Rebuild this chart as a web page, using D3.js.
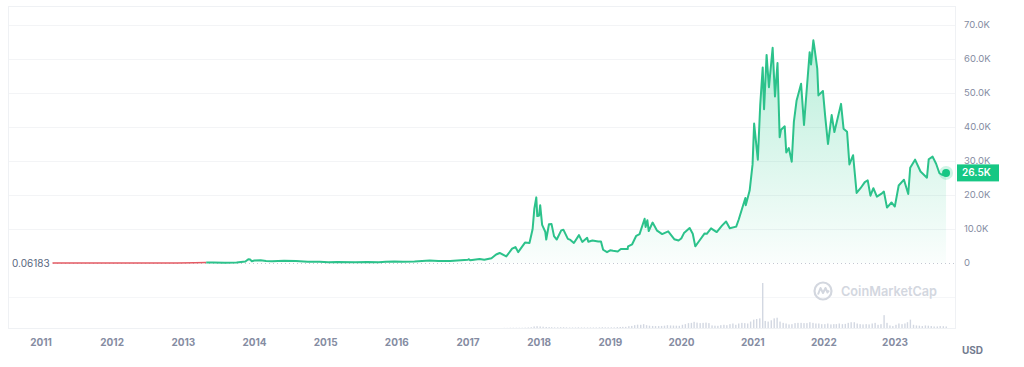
<!DOCTYPE html>
<html>
<head>
<meta charset="utf-8">
<script src="https://cdn.jsdelivr.net/npm/d3@7"></script>
<style>
  body { margin: 0; background: #fff; font-family: Inter, "Noto Sans", sans-serif; }
  svg { display: block; }
</style>
</head>
<body>
<div id="chart"></div>
<script>
// price data (USD)
const priceDates = [
  "2011-03-01","2011-06-08","2011-09-01","2011-12-01","2012-03-01","2012-06-01","2012-09-01","2012-12-01","2013-03-01","2013-04-28",
  "2013-06-01","2013-08-01","2013-10-01","2013-11-15","2013-11-30","2013-12-10","2013-12-18","2013-12-31",
  "2014-02-01","2014-03-01","2014-04-01","2014-06-01","2014-08-01","2014-10-01","2014-12-01",
  "2015-01-15","2015-03-01","2015-06-01","2015-08-01","2015-10-01","2015-11-05","2015-12-20",
  "2016-02-01","2016-04-01","2016-06-18","2016-08-01","2016-10-01","2016-12-31",
  "2017-01-05","2017-01-12","2017-03-01","2017-03-25","2017-05-01","2017-05-25","2017-06-12","2017-07-16","2017-08-15","2017-09-01","2017-09-15","2017-10-20","2017-11-12","2017-11-28","2017-12-07","2017-12-17","2017-12-22","2017-12-31",
  "2018-01-06","2018-01-16","2018-02-01","2018-02-06","2018-02-20","2018-03-05","2018-03-18","2018-04-01","2018-04-24","2018-05-05","2018-05-28","2018-06-10","2018-06-28","2018-07-24","2018-08-10","2018-09-04","2018-09-10","2018-10-01","2018-10-31","2018-11-14","2018-11-25","2018-12-15","2018-12-31",
  "2019-01-15","2019-02-08","2019-02-24","2019-03-31","2019-04-02","2019-04-23","2019-05-14","2019-05-31","2019-06-26","2019-07-01","2019-07-10","2019-07-17","2019-08-06","2019-08-29","2019-09-24","2019-10-25","2019-11-25","2019-12-17","2019-12-31",
  "2020-01-14","2020-02-12","2020-02-28","2020-03-12","2020-03-31","2020-04-29","2020-05-10","2020-06-01","2020-06-30","2020-07-27","2020-08-17","2020-09-05","2020-10-08","2020-10-21","2020-11-05","2020-11-24","2020-11-26","2020-12-16","2020-12-31",
  "2021-01-08","2021-01-27","2021-02-08","2021-02-21","2021-02-28","2021-03-13","2021-03-25","2021-04-13","2021-04-25","2021-05-08","2021-05-19","2021-05-26","2021-06-14","2021-06-22","2021-07-05","2021-07-20","2021-07-31","2021-08-14","2021-08-22","2021-09-06","2021-09-21","2021-10-01","2021-10-20","2021-10-27","2021-11-08","2021-11-12","2021-11-28","2021-12-04","2021-12-27",
  "2022-01-08","2022-01-22","2022-02-10","2022-02-24","2022-03-30","2022-04-12","2022-04-30","2022-05-12","2022-05-31","2022-06-18","2022-07-08","2022-07-30","2022-08-14","2022-08-28","2022-09-12","2022-09-30","2022-10-26","2022-11-05","2022-11-21","2022-12-14","2022-12-31",
  "2023-01-20","2023-02-16","2023-03-10","2023-03-20","2023-04-14","2023-05-12","2023-06-14","2023-06-23","2023-07-13","2023-07-31","2023-08-17","2023-09-01","2023-09-20"
];
const priceValues = [
  0.06183,17,5,4,5,6.5,12,13,90,135,
  129,104,125,420,1129,1000,522,754,
  830,560,480,640,590,385,380,
  210,260,225,280,240,400,440,
  370,415,760,600,615,960,
  1130,780,1190,930,1420,2500,2950,1930,4200,4700,3200,6000,5900,9900,16000,19300,13800,13900,
  17000,11200,9200,6900,11400,11500,7900,6900,9600,9800,7100,6800,5900,8200,6200,7400,6250,6600,6300,6300,3900,3200,3740,
  3580,3400,4100,4100,4900,5500,8000,8500,13000,10600,12600,9400,11900,9500,8500,9300,7000,6600,7200,
  8800,10300,8600,4900,6400,8700,8600,10200,9100,11000,12200,10200,10700,12800,15600,19100,17000,21300,29000,
  41000,30400,46200,57500,45200,61200,51700,63300,49000,58800,37000,39200,40200,32500,33800,29800,41500,47800,49500,52700,40600,48100,62000,58400,65500,64000,57200,49300,50600,
  43000,35000,43500,38500,46800,39500,38600,29000,31700,20600,22000,23800,24300,19800,22000,19500,20500,21000,16300,17800,16600,
  22800,24500,20300,28000,30400,26900,25100,30500,31300,29200,26400,25900,26500
];
const redUntil = "2013-04-28";

// volume (billions USD), two readings per month
const volMonths = [
  "2017-07","2017-08","2017-09","2017-10","2017-11","2017-12",
  "2018-01","2018-02","2018-03","2018-04","2018-05","2018-06","2018-07","2018-08","2018-09","2018-10","2018-11","2018-12",
  "2019-01","2019-02","2019-03","2019-04","2019-05","2019-06","2019-07","2019-08","2019-09","2019-10","2019-11","2019-12",
  "2020-01","2020-02","2020-03","2020-04","2020-05","2020-06","2020-07","2020-08","2020-09","2020-10","2020-11","2020-12",
  "2021-01","2021-02","2021-03","2021-04","2021-05","2021-06","2021-07","2021-08","2021-09","2021-10","2021-11","2021-12",
  "2022-01","2022-02","2022-03","2022-04","2022-05","2022-06","2022-07","2022-08","2022-09","2022-10","2022-11","2022-12",
  "2023-01","2023-02","2023-03","2023-04","2023-05","2023-06","2023-07","2023-08","2023-09"
];
const volValues = [
  [1,1],[2,2],[2,2],[2,3],[4,6],[12,14],
  [12,10],[8,7],[6,5],[5,6],[6,5],[4,4],[4,5],[4,4],[4,4],[4,4],[5,6],[5,5],
  [5,5],[7,8],[9,9],[14,16],[22,26],[25,30],[22,18],[16,15],[15,16],[18,22],[20,19],[18,17],
  [25,30],[38,40],[48,42],[38,40],[42,38],[20,18],[17,22],[25,22],[30,35],[25,35],[40,38],[35,50],
  [65,70],[75,350],[55,50],[60,75],[80,50],[40,35],[28,30],[38,40],[40,38],[38,45],[40,35],[35,30],
  [30,35],[28,30],[30,35],[30,32],[40,45],[45,35],[30,28],[30,28],[35,40],[25,30],[100,40],[20,15],
  [25,35],[30,35],[45,65],[25,20],[18,15],[20,18],[15,12],[12,15],[14,12]
];

const yTicks = [0, 10000, 20000, 30000, 40000, 50000, 60000, 70000];
const yearLabels = ["2011","2012","2013","2014","2015","2016","2017","2018","2019","2020","2021","2022","2023"];
const startLabel = "0.06183";
const lastLabel = "26.5K";

const width = 1024, height = 367;
const green = "#16c784", lineGreen = "#2cc28b", red = "#e45a63";

const svg = d3.select("#chart").append("svg")
  .attr("width", width)
  .attr("height", height);

const x = d3.scaleUtc()
  .domain([new Date("2011-01-01"), new Date("2023-01-01")])
  .range([41, 895]);
const y = d3.scaleLinear().domain([0, 70000]).range([263, 25]);
const yVol = d3.scaleLinear().domain([0, 350]).range([328, 283]);

// frame
svg.append("rect")
  .attr("x", 8.5).attr("y", 6.5).attr("width", 947).attr("height", 322)
  .attr("fill", "none").attr("stroke", "#eff1f4");

// grid
svg.append("g").selectAll("line")
  .data(yTicks.filter(d => d > 0))
  .join("line")
  .attr("x1", 9).attr("x2", 955)
  .attr("y1", d => Math.round(y(d)) + 0.5).attr("y2", d => Math.round(y(d)) + 0.5)
  .attr("stroke", "#f3f4f6");
svg.append("line")
  .attr("x1", 9).attr("x2", 955).attr("y1", 297.5).attr("y2", 297.5)
  .attr("stroke", "#f5f6f8");

// y axis labels
svg.append("g").selectAll("text")
  .data(yTicks)
  .join("text")
  .attr("x", 964)
  .attr("y", d => y(d))
  .attr("dy", "0.35em")
  .attr("font-size", 9.5)
  .attr("fill", "#858ca2")
  .text(d => d === 0 ? "0" : (d / 1000).toFixed(1) + "K");

// x axis labels
svg.append("g").selectAll("text")
  .data(yearLabels)
  .join("text")
  .attr("x", d => x(new Date(d + "-01-01")))
  .attr("y", 346)
  .attr("text-anchor", "middle")
  .attr("font-size", 10)
  .attr("font-weight", 700)
  .attr("fill", "#858ca2")
  .text(d => d);

svg.append("text")
  .attr("x", 962).attr("y", 354)
  .attr("font-size", 10).attr("font-weight", 700)
  .attr("fill", "#737b8f")
  .text("USD");

// watermark
const wm = svg.append("g").attr("transform", "translate(823,291)");
wm.append("circle").attr("r", 8.5).attr("fill", "none").attr("stroke", "#d3d7df").attr("stroke-width", 2.2);
wm.append("path")
  .attr("d", "M-5,3.5 L-2.5,-3 L0,2 L2.5,-3 L4.5,1.5 L6,-0.5")
  .attr("fill", "none").attr("stroke", "#d3d7df").attr("stroke-width", 2).attr("stroke-linejoin", "round");
svg.append("text")
  .attr("x", 841).attr("y", 296)
  .attr("font-size", 13.5).attr("font-weight", 600)
  .attr("textLength", 96).attr("lengthAdjust", "spacingAndGlyphs")
  .attr("fill", "#d3d7df")
  .text("CoinMarketCap");

// volume bars
const volData = [];
volMonths.forEach((m, i) => {
  volData.push({ date: new Date(m + "-06"), v: volValues[i][0] });
  volData.push({ date: new Date(m + "-21"), v: volValues[i][1] });
});
svg.append("g").selectAll("rect")
  .data(volData)
  .join("rect")
  .attr("x", d => x(d.date) - 0.7)
  .attr("width", 1.4)
  .attr("y", d => yVol(d.v))
  .attr("height", d => 328 - yVol(d.v))
  .attr("fill", "#d3d8e2");

// baseline (start price)
svg.append("line")
  .attr("x1", 53).attr("x2", 955)
  .attr("y1", 263.5).attr("y2", 263.5)
  .attr("stroke", "#c3c8d2")
  .attr("stroke-dasharray", "1,3");

svg.append("text")
  .attr("x", 12).attr("y", 263)
  .attr("dy", "0.35em")
  .attr("font-size", 10)
  .attr("fill", "#58667e")
  .text(startLabel);

// price series
const data = priceDates.map((d, i) => ({ date: new Date(d), v: priceValues[i] }));
const splitDate = new Date(redUntil);
const redData = data.filter(d => d.date <= splitDate);
const greenData = data.filter(d => d.date >= splitDate);

const grad = svg.append("defs").append("linearGradient")
  .attr("id", "fillGrad")
  .attr("gradientUnits", "userSpaceOnUse")
  .attr("x1", 0).attr("x2", 0).attr("y1", 40).attr("y2", 263);
grad.append("stop").attr("offset", "0%").attr("stop-color", green).attr("stop-opacity", 0.3);
grad.append("stop").attr("offset", "100%").attr("stop-color", green).attr("stop-opacity", 0.02);

svg.append("path")
  .datum(greenData)
  .attr("fill", "url(#fillGrad)")
  .attr("d", d3.area().x(d => x(d.date)).y0(263).y1(d => y(d.v)));

svg.append("path")
  .datum(redData)
  .attr("fill", "none")
  .attr("stroke", red)
  .attr("stroke-width", 1.6)
  .attr("d", d3.line().x(d => x(d.date)).y(d => y(d.v)));

svg.append("path")
  .datum(greenData)
  .attr("fill", "none")
  .attr("stroke", lineGreen)
  .attr("stroke-width", 2)
  .attr("stroke-linejoin", "round")
  .attr("d", d3.line().x(d => x(d.date)).y(d => y(d.v)));

// last point marker and label
const last = data[data.length - 1];
svg.append("circle")
  .attr("cx", x(last.date)).attr("cy", y(last.v))
  .attr("r", 7).attr("fill", green).attr("opacity", 0.2);
svg.append("circle")
  .attr("cx", x(last.date)).attr("cy", y(last.v))
  .attr("r", 4).attr("fill", green);

svg.append("rect")
  .attr("x", 957).attr("y", y(last.v) - 8.5)
  .attr("width", 42).attr("height", 17)
  .attr("fill", green);
svg.append("text")
  .attr("x", 962).attr("y", y(last.v))
  .attr("dy", "0.35em")
  .attr("font-size", 10).attr("font-weight", 600)
  .attr("fill", "#fff")
  .text(lastLabel);
</script>
</body>
</html>
